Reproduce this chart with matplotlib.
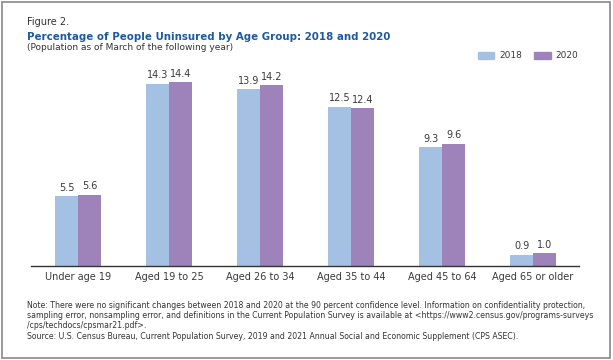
import matplotlib.pyplot as plt
import matplotlib.patches as mpatches
import numpy as np

# Daten
groups = ['Under age 19', 'Aged 19 to 25', 'Aged 26 to 34', 'Aged 35 to 44',
          'Aged 45 to 64', 'Aged 65 or older']
vals_2018 = [5.5, 14.3, 13.9, 12.5, 9.3, 0.9]
vals_2020 = [5.6, 14.4, 14.2, 12.4, 9.6, 1.0]
years = ['2018', '2020']

c18 = '#a4c0e2'
c20 = '#9d83ba'
txt = '#3a3a3a'

fig = plt.figure(figsize=(6.13, 3.6), dpi=100)
ax = fig.add_axes([31/613, 94/360, 548/613, 204/360])

x = np.arange(len(groups))
w = 0.253
b1 = ax.bar(x - w/2, vals_2018, w, color=c18)
b2 = ax.bar(x + w/2, vals_2020, w, color=c20)

for bars in (b1, b2):
    for b in bars:
        ax.text(b.get_x() + b.get_width()/2, b.get_height() + 0.25,
                f'{b.get_height():.1f}', ha='center', va='bottom',
                fontsize=7, color=txt)

ax.set_xlim(-0.517, 5.505)
ax.set_ylim(0, 16)
ax.set_xticks(x)
ax.set_xticklabels(groups, fontsize=7, color=txt)
ax.tick_params(axis='x', length=0, pad=4)
ax.set_yticks([])
for s in ['top', 'right', 'left']:
    ax.spines[s].set_visible(False)
ax.spines['bottom'].set_color('#333333')
ax.spines['bottom'].set_linewidth(1.0)

# Titel
fig.text(27/613, 1 - 22/360, 'Figure 2.', fontsize=7, color='#333333', va='center')
fig.text(27/613, 1 - 36.5/360, 'Percentage of People Uninsured by Age Group: 2018 and 2020',
         fontsize=7.4, fontweight='heavy', color='#1d5a9e', va='center')
fig.text(27/613, 1 - 47.5/360, '(Population as of March of the following year)',
         fontsize=6.5, color='#333333', va='center')

# Legende
h = [mpatches.Patch(color=c18, label=years[0]), mpatches.Patch(color=c20, label=years[1])]
fig.legend(handles=h, loc='center', bbox_to_anchor=(528/613, 1 - 56/360), ncol=2,
           frameon=False, fontsize=6.5, handlelength=1.85, handleheight=0.8,
           columnspacing=1.3, handletextpad=0.55, labelcolor=txt,
           borderpad=0, borderaxespad=0)

# Fussnoten
notes = ['Note: There were no significant changes between 2018 and 2020 at the 90 percent confidence level. Information on confidentiality protection,',
         'sampling error, nonsampling error, and definitions in the Current Population Survey is available at <https://www2.census.gov/programs-surveys',
         '/cps/techdocs/cpsmar21.pdf>.',
         'Source: U.S. Census Bureau, Current Population Survey, 2019 and 2021 Annual Social and Economic Supplement (CPS ASEC).']
for i, line in enumerate(notes):
    fig.text(27/613, 1 - (305 + i*10.4)/360, line, fontsize=5.55, color='#333333', va='center')

# Rahmen
fig.patches.append(mpatches.Rectangle((2/613, 2/360), 608/613, 356/360, transform=fig.transFigure,
                                      fill=False, edgecolor='#888888', linewidth=1.2))

fig.savefig('out.png', dpi=100)
